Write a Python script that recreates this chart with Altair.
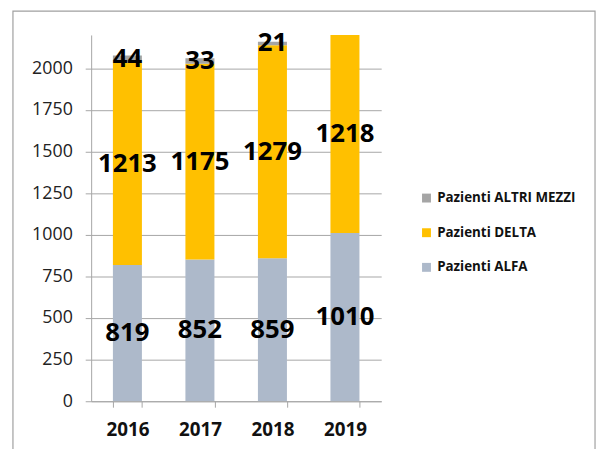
import altair as alt
import pandas as pd

years = ["2016", "2017", "2018", "2019"]
series = ["Pazienti ALFA", "Pazienti DELTA", "Pazienti ALTRI MEZZI"]
alfa = [819, 852, 859, 1010]
delta = [1213, 1175, 1279, 1218]
altri = [44, 33, 21, None]
colors = ["#adb9ca", "#ffc000", "#a5a5a5"]
y_ticks = [0, 250, 500, 750, 1000, 1250, 1500, 1750, 2000]
y_max = 2200

rows = []
for i, y in enumerate(years):
    for k, (name, vals) in enumerate(zip(series, [alfa, delta, altri])):
        if vals[i] is not None:
            rows.append({"year": y, "serie": name, "value": vals[i], "ord": k})
df = pd.DataFrame(rows)

FONT = "Open Sans"
GRID = "#a6a6a6"

base = alt.Chart(df).transform_stack(
    stack="value", groupby=["year"], sort=[alt.SortField("ord")], as_=["v0", "v1"]
)

xenc = alt.X(
    "year:N",
    sort=years,
    scale=alt.Scale(paddingInner=0.6, paddingOuter=0.3),
    axis=alt.Axis(
        title=None, labelAngle=0, labelFont=FONT, labelFontSize=19, labelFontWeight="bold",
        labelColor="#111", labelPadding=14, tickBand="extent", tickSize=6,
        tickColor=GRID, domainColor=GRID, grid=False,
    ),
)

bars = base.mark_bar(clip=True).encode(
    x=xenc,
    y=alt.Y(
        "v0:Q",
        scale=alt.Scale(domain=[0, y_max], nice=False),
        axis=alt.Axis(
            title=None, values=y_ticks, format="d", labelFont=FONT, labelFontSize=18,
            labelColor="#222", labelPadding=13, tickSize=6, tickColor=GRID,
            domainColor=GRID, gridColor=GRID, grid=True,
        ),
    ),
    y2="v1:Q",
    color=alt.Color(
        "serie:N",
        scale=alt.Scale(domain=series[::-1], range=colors[::-1]),
        legend=alt.Legend(
            title=None, orient="none", legendX=332, legendY=158, symbolType="square",
            symbolSize=81, symbolStrokeWidth=0, labelFont=FONT, labelFontSize=13.5,
            labelFontWeight="bold", labelColor="#111", labelOffset=4, rowPadding=20,
            padding=0,
        ),
    ),
)

labels = base.transform_calculate(
    mid=f"(min(datum.v0,{y_max})+min(datum.v1,{y_max}))/2"
).mark_text(
    font=FONT, fontSize=26, fontWeight="bold", color="black", baseline="middle", align="center"
).encode(
    x=alt.X("year:N", sort=years),
    y=alt.Y("mid:Q"),
    text=alt.Text("value:Q"),
)

border = alt.Chart(alt.Data(values=[{}])).mark_rect(
    fill=None, stroke="#a0a0a0", strokeWidth=1.2
).encode(
    x=alt.value(-79), x2=alt.value(509), y=alt.value(-24), y2=alt.value(500)
)

chart = alt.layer(border, bars, labels).properties(
    width=293, height=370,
    autosize=alt.AutoSizeParams(type="none"),
    padding={"left": 84, "top": 25, "right": 219, "bottom": 46},
).configure_view(stroke=None)

chart.save("out.html", embed_options={"renderer": "svg", "actions": False})
